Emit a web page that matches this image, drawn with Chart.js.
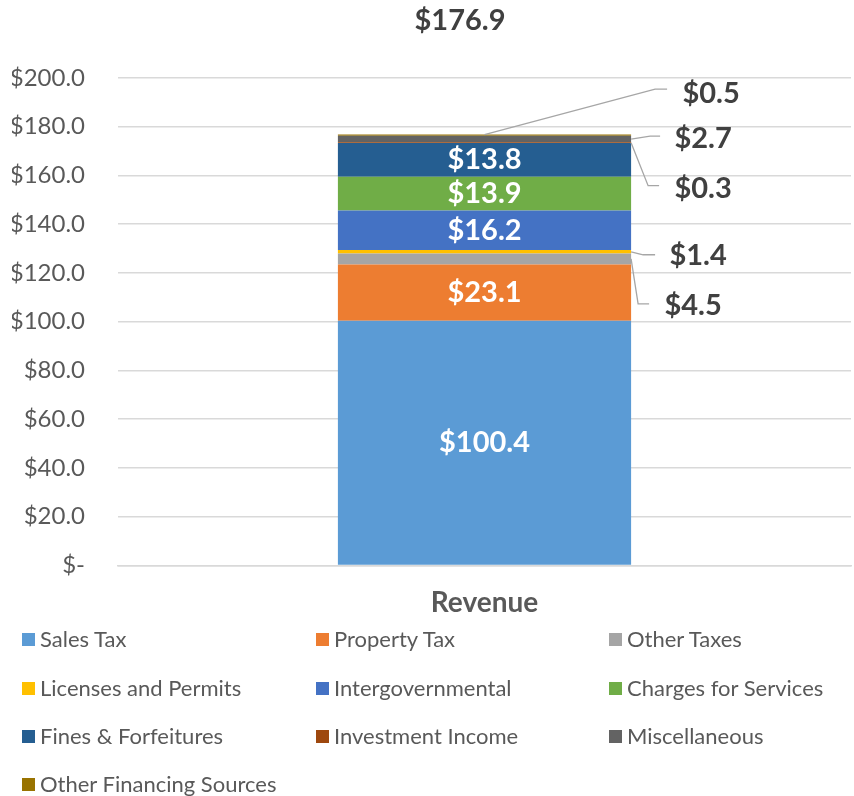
<!DOCTYPE html>
<html><head><meta charset="utf-8">
<script src="https://cdn.jsdelivr.net/npm/chart.js@4.4.1/dist/chart.umd.min.js"></script>
<style>
html,body{margin:0;padding:0;background:#fff;}
#wrap{position:relative;width:854px;height:796px;}
#c{position:absolute;left:0;top:0;}
#legend{position:absolute;left:0;top:0;width:854px;height:796px;pointer-events:none;font-family:Lato,"Open Sans",sans-serif;}
.li{position:absolute;font-size:22px;color:#595959;white-space:nowrap;line-height:24px;}
.li span.sw{position:absolute;left:0;top:6px;width:13px;height:13px;}
.li span.tx{position:absolute;left:18px;top:0;}
</style></head>
<body><div id="wrap"><canvas id="c" width="854" height="641"></canvas><div id="legend"></div></div>
<script>
const categories = ["Revenue"];
const seriesNames = ["Sales Tax","Property Tax","Other Taxes","Licenses and Permits","Intergovernmental","Charges for Services","Fines & Forfeitures","Investment Income","Miscellaneous","Other Financing Sources"];
const seriesValues = [100.4, 23.1, 4.5, 1.4, 16.2, 13.9, 13.8, 0.3, 2.7, 0.5];
const totalLabel = "$176.9";
const yTicks = [0,20,40,60,80,100,120,140,160,180,200];
const colors = ["#5B9BD5","#ED7D31","#A5A5A5","#FFC000","#4472C4","#70AD47","#255E91","#9E480E","#636363","#997300"];

// callout placement for small segments (pixel offsets from bar right edge / segment centre)
const callouts = {
  2: {lx: 62, ly: 47, elbowX: 7, elbowY: 45, endX: 18},
  3: {lx: 67, ly: 4, elbowX: 12, elbowY: 3, endX: 24},
  7: {lx: 72, ly: 46, elbowX: 17, elbowY: 43, endX: 28},
  8: {lx: 72, ly: 0, elbowX: 19, elbowY: -3, endX: 29},
  9: {fromCenter: true, lx: 80, ly: -42, elbowX: 24, elbowY: -46, endX: 36}
};

const fmt = v => v === 0 ? "$-" : "$" + v.toFixed(1);
const FONT = 'Lato, "Open Sans", sans-serif';

const labelPlugin = {
  id: 'segLabels',
  afterDatasetsDraw(chart) {
    const ctx = chart.ctx;
    const ys = chart.scales.y;
    ctx.save();
    ctx.font = 'bold 29px ' + FONT;
    ctx.textBaseline = 'middle';
    let cum = 0;
    seriesValues.forEach((v, i) => {
      const bar = chart.getDatasetMeta(i).data[0];
      const yTop = ys.getPixelForValue(cum + v);
      const yBot = ys.getPixelForValue(cum);
      cum += v;
      const cy = (yTop + yBot) / 2;
      const right = bar.x + bar.width / 2;
      const co = callouts[i];
      if (!co) {
        ctx.fillStyle = '#ffffff';
        ctx.textAlign = 'center';
        ctx.fillText(fmt(v), bar.x, cy);
      } else {
        const sx = co.fromCenter ? bar.x : right;
        const sy = co.fromCenter ? yTop : cy;
        ctx.strokeStyle = '#A6A6A6';
        ctx.lineWidth = 1.3;
        ctx.beginPath();
        ctx.moveTo(sx, sy);
        ctx.lineTo(right + co.elbowX, cy + co.elbowY);
        ctx.lineTo(right + co.endX, cy + co.elbowY);
        ctx.stroke();
        ctx.fillStyle = '#404040';
        ctx.textAlign = 'center';
        ctx.fillText(fmt(v), right + co.lx, cy + co.ly);
      }
    });
    // chart title (total), centred like the original
    ctx.font = 'bold 29px ' + FONT;
    ctx.fillStyle = '#404040';
    ctx.textAlign = 'center';
    ctx.fillText(totalLabel, 460, 21);
    ctx.restore();
  }
};

const datasets = seriesNames.map((n, i) => ({
  label: n,
  data: [seriesValues[i]],
  backgroundColor: colors[i],
  borderWidth: 0,
  barPercentage: 0.4,
  categoryPercentage: 1.0
}));

new Chart(document.getElementById('c'), {
  type: 'bar',
  data: { labels: categories, datasets },
  options: {
    responsive: false,
    animation: false,
    layout: { padding: { left: 12, right: 3, top: 78, bottom: 0 } },
    plugins: {
      legend: { display: false },
      tooltip: { enabled: false },
      title: { display: false }
    },
    scales: {
      x: {
        stacked: true,
        grid: { display: false, drawTicks: false },
        border: { display: true, color: '#D9D9D9', width: 1.5 },
        ticks: { color: '#595959', font: { family: FONT, size: 28, weight: 'bold' }, padding: 21 }
      },
      y: {
        stacked: true, min: 0, max: 200,
        afterBuildTicks: s => { s.ticks = yTicks.map(v => ({ value: v })); },
        afterFit: s => { s.width = 106; },
        grid: { color: '#D9D9D9', lineWidth: 1.5, drawTicks: false },
        border: { display: false },
        ticks: { color: '#595959', font: { family: FONT, size: 24 }, padding: 33, callback: v => fmt(v) }
      }
    }
  },
  plugins: [labelPlugin]
});

const leg = document.getElementById('legend');
const colX = [22, 316, 609], rowY = [627, 676, 724, 772];
seriesNames.forEach((n, i) => {
  const d = document.createElement('div');
  d.className = 'li';
  d.style.left = colX[i % 3] + 'px';
  d.style.top = rowY[Math.floor(i / 3)] + 'px';
  d.innerHTML = '<span class="sw" style="background:' + colors[i] + '"></span><span class="tx">' + n + '</span>';
  leg.appendChild(d);
});
</script></body></html>
